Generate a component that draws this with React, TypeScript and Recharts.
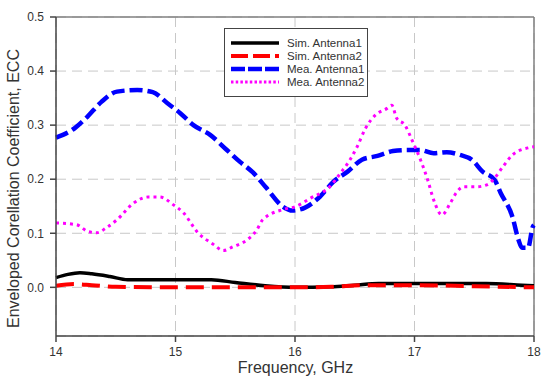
import { CartesianGrid, Line, LineChart, ReferenceLine, XAxis, YAxis } from 'recharts'

const freqTicks = [14, 15, 16, 17, 18]
const eccTicks = [0, 0.1, 0.2, 0.3, 0.4, 0.5]

const simAnt1Freq = [14.0, 14.1, 14.2, 14.3, 14.45, 14.6, 15.0, 15.3, 15.5, 15.75, 16.0, 16.3, 16.5, 16.7, 17.0, 17.6, 17.9, 18.0]
const simAnt1Ecc = [0.018, 0.024, 0.027, 0.025, 0.02, 0.014, 0.014, 0.014, 0.009, 0.003, 0.0, 0.001, 0.004, 0.007, 0.007, 0.007, 0.004, 0.003]

const simAnt2Freq = [14.0, 14.15, 14.3, 14.5, 15.0, 16.0, 16.3, 16.6, 17.0, 17.5, 18.0]
const simAnt2Ecc = [0.003, 0.006, 0.004, 0.001, 0.0, 0.0, 0.001, 0.004, 0.004, 0.002, 0.0]

const meaAnt1Freq = [
  14.0, 14.16, 14.26, 14.38, 14.51, 14.68, 14.81, 14.93, 15.04, 15.15, 15.29, 15.43, 15.54, 15.65, 15.76, 15.9, 15.98,
  16.02, 16.08, 16.21, 16.32, 16.44, 16.56, 16.69, 16.82, 16.94, 17.05, 17.16, 17.27, 17.38, 17.48, 17.57, 17.67, 17.72,
  17.82, 17.87, 17.9, 17.95, 17.99, 18.0,
]
const meaAnt1Ecc = [
  0.277, 0.295, 0.315, 0.343, 0.362, 0.365, 0.361, 0.341, 0.322, 0.3, 0.282, 0.254, 0.232, 0.212, 0.184, 0.149, 0.142,
  0.143, 0.147, 0.168, 0.195, 0.214, 0.236, 0.243, 0.252, 0.254, 0.254, 0.248, 0.25, 0.245, 0.236, 0.214, 0.199, 0.175,
  0.13, 0.088, 0.073, 0.073, 0.112, 0.115,
]

const meaAnt2Freq = [
  14.0, 14.17, 14.27, 14.34, 14.42, 14.51, 14.65, 14.77, 14.87, 14.98, 15.07, 15.18, 15.32, 15.4, 15.48, 15.6, 15.68,
  15.73, 15.9, 16.0, 16.13, 16.29, 16.38, 16.46, 16.52, 16.59, 16.67, 16.77, 16.81, 16.85, 16.92, 16.98, 17.05, 17.11,
  17.16, 17.23, 17.3, 17.35, 17.41, 17.52, 17.61, 17.67, 17.74, 17.82, 17.95, 18.0,
]
const meaAnt2Ecc = [
  0.119, 0.116, 0.103, 0.101, 0.11, 0.125, 0.156, 0.167, 0.167, 0.153, 0.137, 0.103, 0.079, 0.068, 0.075, 0.088, 0.106,
  0.125, 0.144, 0.149, 0.165, 0.186, 0.211, 0.236, 0.26, 0.294, 0.318, 0.331, 0.337, 0.313, 0.3, 0.272, 0.236, 0.199,
  0.162, 0.134, 0.156, 0.175, 0.186, 0.186, 0.19, 0.202, 0.223, 0.245, 0.258, 0.26,
]

const toPoints = (freq: number[], ecc: number[]) => freq.map((f, i) => ({ freq: f, ecc: ecc[i] }))

const series = [
  { name: 'Sim. Antenna1', data: toPoints(simAnt1Freq, simAnt1Ecc), color: '#000000', width: 3.5, dash: undefined, legendDash: undefined },
  { name: 'Sim. Antenna2', data: toPoints(simAnt2Freq, simAnt2Ecc), color: '#ff0000', width: 4, dash: '18 8', legendDash: '17 5' },
  { name: 'Mea. Antenna1', data: toPoints(meaAnt1Freq, meaAnt1Ecc), color: '#0000ff', width: 4.5, dash: '13 5', legendDash: '14 3' },
  { name: 'Mea. Antenna2', data: toPoints(meaAnt2Freq, meaAnt2Ecc), color: '#ff00ff', width: 3, dash: '3 4', legendDash: '2.5 2.2' },
]

const font = '"Liberation Sans", Arial, sans-serif'
const tickStyle = { fontFamily: font, fontSize: 12, fill: '#333' }

function LegendBox() {
  return (
    <div
      style={{
        position: 'absolute',
        left: 224,
        top: 28,
        width: 144,
        height: 69,
        boxSizing: 'border-box',
        border: '1.5px solid #444',
        background: '#fff',
        fontFamily: font,
        fontSize: 11.5,
        color: '#333',
      }}
    >
      {series.map((s, i) => (
        <div key={s.name} style={{ position: 'absolute', left: 6, top: 7 + i * 13, height: 13, display: 'flex', alignItems: 'center' }}>
          <svg width={48} height={8} style={{ display: 'block' }}>
            <line x1={0} y1={4} x2={48} y2={4} stroke={s.color} strokeWidth={s.width} strokeDasharray={s.legendDash} />
          </svg>
          <span style={{ marginLeft: 8, whiteSpace: 'nowrap' }}>{s.name}</span>
        </div>
      ))}
    </div>
  )
}

export default function App() {
  return (
    <div style={{ position: 'absolute', left: 0, top: 0, width: 550, height: 385, background: '#fff' }}>
      <LineChart width={550} height={385} margin={{ top: 17, right: 16, bottom: 0, left: 0 }}>
        <CartesianGrid stroke="#c8c8c8" strokeDasharray="10 6" />
        <XAxis
          type="number"
          dataKey="freq"
          domain={[14, 18]}
          ticks={freqTicks}
          height={49}
          tickSize={6}
          tickMargin={5}
          tick={tickStyle}
          stroke="#444"
          strokeWidth={1.5}
          label={{
            content: () => (
              <text x={295.5} y={373} textAnchor="middle" fontFamily={font} fontSize={16} fill="#333">
                Frequency, GHz
              </text>
            ),
          }}
        />
        <YAxis
          type="number"
          domain={[-0.09, 0.5]}
          ticks={eccTicks}
          width={56}
          tickSize={6}
          tickMargin={6}
          tick={tickStyle}
          tickFormatter={(v: number) => v.toFixed(1)}
          stroke="#444"
          strokeWidth={1.5}
          allowDataOverflow
          label={{
            content: () => (
              <text x={19} y={188.5} textAnchor="middle" transform="rotate(-90, 19, 188.5)" fontFamily={font} fontSize={16} fill="#333">
                Enveloped Corellation Coefficient, ECC
              </text>
            ),
          }}
        />
        <ReferenceLine y={0.5} stroke="#808080" strokeWidth={1.5} />
        <ReferenceLine x={18} stroke="#808080" strokeWidth={1.5} />
        {series.map((s) => (
          <Line
            key={s.name}
            data={s.data}
            dataKey="ecc"
            name={s.name}
            type="monotone"
            stroke={s.color}
            strokeWidth={s.width}
            strokeDasharray={s.dash}
            dot={false}
            activeDot={false}
            isAnimationActive={false}
          />
        ))}
      </LineChart>
      <LegendBox />
    </div>
  )
}
